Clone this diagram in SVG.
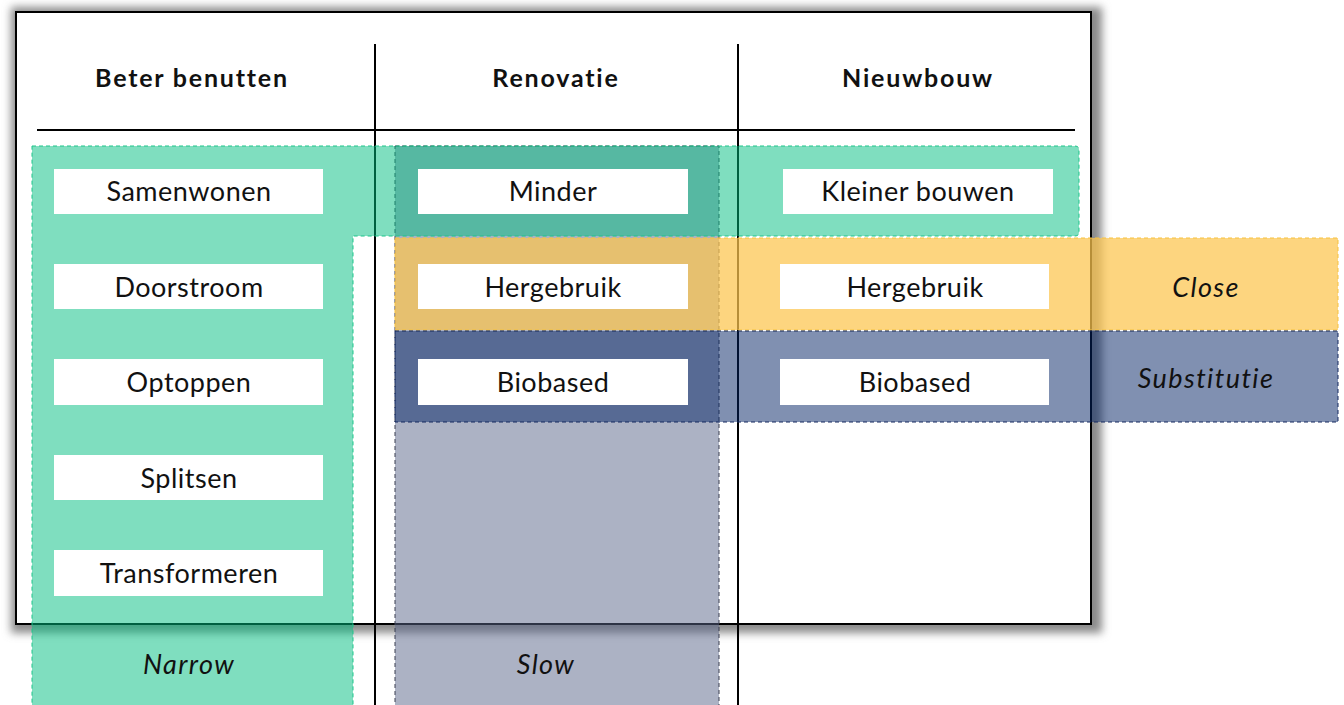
<svg xmlns="http://www.w3.org/2000/svg" width="1344" height="705" viewBox="0 0 1344 705">
<style>
.hdr{font-family:Lato,"Noto Sans",sans-serif;font-weight:700;font-size:25px;letter-spacing:1.8px;fill:#111;text-anchor:middle;dominant-baseline:central}
.lbl{font-family:Lato,"Noto Sans",sans-serif;font-size:27px;letter-spacing:0.5px;fill:#111;text-anchor:middle;dominant-baseline:central}
.it{font-family:Lato,"Noto Sans",sans-serif;font-style:italic;font-size:27px;letter-spacing:1.4px;fill:#111;text-anchor:middle;dominant-baseline:central}
.box{fill:#fff}
.ln{stroke:#000;stroke-width:2;fill:none}
</style>
<defs>
<filter id="blur" x="-5%" y="-8%" width="110%" height="116%">
<feGaussianBlur stdDeviation="4"/>
</filter>
</defs>
<rect width="1344" height="705" fill="#fff"/>
<g id="frame">
<rect x="11" y="7" width="1091" height="626" fill="#8a8a8a" filter="url(#blur)"/>
<rect x="16" y="12" width="1075" height="612" fill="#fff"/>
<rect x="16" y="12" width="1075" height="612" class="ln"/>
<line x1="37" y1="130" x2="1075" y2="130" class="ln"/>
<line x1="375" y1="44" x2="375" y2="705" class="ln"/>
<line x1="738" y1="44" x2="738" y2="705" class="ln"/>
</g>
<g id="headers">
<text class="hdr" x="192" y="77">Beter benutten</text>
<text class="hdr" x="556" y="77">Renovatie</text>
<text class="hdr" x="918" y="77">Nieuwbouw</text>
</g>
<g id="slow">
<rect x="395" y="146" width="324" height="570" fill="rgb(89,101,137)" fill-opacity="0.5" stroke="#3a3f50" stroke-width="1" stroke-dasharray="4 3"/>
</g>
<g id="narrow">
<path d="M32,146 H1075 Q1079,146 1079,150 V232 Q1079,236 1075,236 H353 V716 H32 Z" fill="rgb(0,190,128)" fill-opacity="0.5" stroke="#1fc48a" stroke-width="1" stroke-dasharray="4 3"/>
</g>
<g id="close">
<rect x="395" y="238" width="943" height="92" fill="rgb(252,197,77)" fill-opacity="0.72" stroke="#f7c23e" stroke-width="1" stroke-dasharray="4 3"/>
</g>
<g id="substitutie">
<rect x="395" y="331" width="943" height="91" fill="rgb(2,34,99)" fill-opacity="0.5" stroke="#15285e" stroke-width="1" stroke-dasharray="4 3"/>
</g>
<g id="n-samenwonen"><rect class="box" x="54" y="169" width="269" height="45"/><text class="lbl" x="189" y="190">Samenwonen</text></g>
<g id="n-doorstroom"><rect class="box" x="54" y="264" width="269" height="45"/><text class="lbl" x="189" y="286">Doorstroom</text></g>
<g id="n-optoppen"><rect class="box" x="54" y="359" width="269" height="46"/><text class="lbl" x="189" y="381">Optoppen</text></g>
<g id="n-splitsen"><rect class="box" x="54" y="455" width="269" height="45"/><text class="lbl" x="189" y="477">Splitsen</text></g>
<g id="n-transformeren"><rect class="box" x="54" y="550" width="269" height="46"/><text class="lbl" x="189" y="572">Transformeren</text></g>
<g id="n-minder"><rect class="box" x="418" y="169" width="270" height="45"/><text class="lbl" x="553" y="190">Minder</text></g>
<g id="n-hergebruik-r"><rect class="box" x="418" y="264" width="270" height="45"/><text class="lbl" x="553" y="286">Hergebruik</text></g>
<g id="n-biobased-r"><rect class="box" x="418" y="359" width="270" height="46"/><text class="lbl" x="553" y="381">Biobased</text></g>
<g id="n-kleiner"><rect class="box" x="783" y="169" width="270" height="45"/><text class="lbl" x="918" y="190">Kleiner bouwen</text></g>
<g id="n-hergebruik-n"><rect class="box" x="780" y="264" width="269" height="45"/><text class="lbl" x="915" y="286">Hergebruik</text></g>
<g id="n-biobased-n"><rect class="box" x="780" y="359" width="269" height="46"/><text class="lbl" x="915" y="381">Biobased</text></g>
<g id="labels">
<text class="it" x="1206" y="286">Close</text>
<text class="it" x="1206" y="377">Substitutie</text>
<text class="it" x="189" y="663">Narrow</text>
<text class="it" x="546" y="663">Slow</text>
</g>
<g id="connectors"></g>
</svg>
